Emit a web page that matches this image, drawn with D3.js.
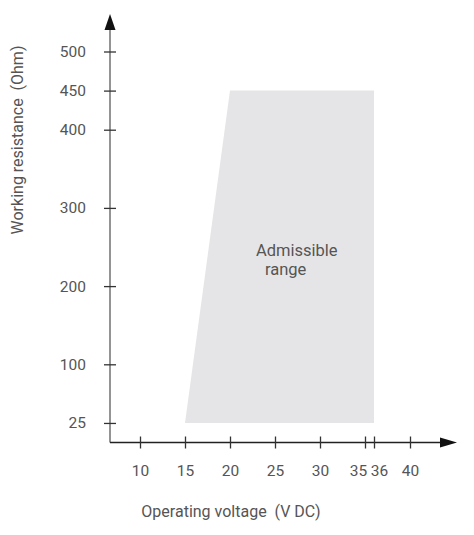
<!DOCTYPE html>
<html><head><meta charset="utf-8">
<script src="https://cdn.jsdelivr.net/npm/d3@7"></script>
<style>
body{margin:0;background:#fff;}
text{font-family:"Roboto",sans-serif;fill:#555;white-space:pre;}
</style></head>
<body><svg id="c" width="474" height="535"></svg>
<script>
const xTicks = [10, 15, 20, 25, 30, 35, 36, 40];
const yTicks = [25, 100, 200, 300, 400, 450, 500];
const regionV = [15, 20, 36, 36];
const regionR = [25, 450, 450, 25];
const xTitle = "Operating voltage  (V DC)";
const yTitle = "Working resistance  (Ohm)";
const regionLabel = ["Admissible", "range"];

const svg = d3.select("#c");
const x = d3.scaleLinear().domain([10, 40]).range([140, 410]);
const y = d3.scaleLinear().domain([0, 500]).range([442.5, 51.5]);
const x0 = x(6.667), y0 = y(0);

svg.append("path")
  .attr("d", d3.line().x(d => x(d[0])).y(d => y(d[1]))(regionV.map((v, i) => [v, regionR[i]])) + "Z")
  .attr("fill", "#e5e5e7");

// y axis
svg.append("line").attr("x1", x0).attr("x2", x0).attr("y1", y0).attr("y2", 28)
  .attr("stroke", "#7a7a7a").attr("stroke-width", 1.6);
svg.append("path").attr("d", `M${x0},14 L${x0-5.5},30 L${x0+5.5},30 Z`).attr("fill", "#111");
const ya = svg.append("g").attr("transform", `translate(${x0},0)`)
  .call(d3.axisLeft(y).tickValues(yTicks).tickSize(0).tickPadding(24));
ya.select(".domain").remove();
ya.selectAll("text").attr("font-size", 15.5).attr("fill", "#555").style("font-family", null);
ya.selectAll(".tick").append("line").attr("x1", -6).attr("x2", 6).attr("stroke", "#333").attr("stroke-width", 1.3);

// x axis
svg.append("line").attr("x1", x0).attr("x2", 442).attr("y1", y0).attr("y2", y0)
  .attr("stroke", "#222").attr("stroke-width", 1.4);
svg.append("path").attr("d", `M457,${y0} L440,${y0-5} L440,${y0+5} Z`).attr("fill", "#111");
const xa = svg.append("g").attr("transform", `translate(0,${y0})`)
  .call(d3.axisBottom(x).tickValues(xTicks).tickSize(0).tickPadding(22));
xa.select(".domain").remove();
xa.selectAll("text").attr("font-size", 15.5).attr("fill", "#555").style("font-family", null)
  .attr("dx", d => d === 35 ? -7 : (d === 36 ? 5 : 0));
xa.selectAll(".tick").append("line").attr("y1", -6).attr("y2", 6).attr("stroke", "#333").attr("stroke-width", 1.3);

// titles
svg.append("text").attr("x", 231).attr("y", 517).attr("text-anchor", "middle")
  .attr("font-size", 16).text(xTitle);
svg.append("text").attr("transform", "translate(23,140) rotate(-90)").attr("text-anchor", "middle")
  .attr("font-size", 16).text(yTitle);

svg.append("text").attr("x", 256).attr("y", 256).attr("font-size", 16.5).text(regionLabel[0]);
svg.append("text").attr("x", 265).attr("y", 275).attr("font-size", 16.5).text(regionLabel[1]);
</script></body></html>
